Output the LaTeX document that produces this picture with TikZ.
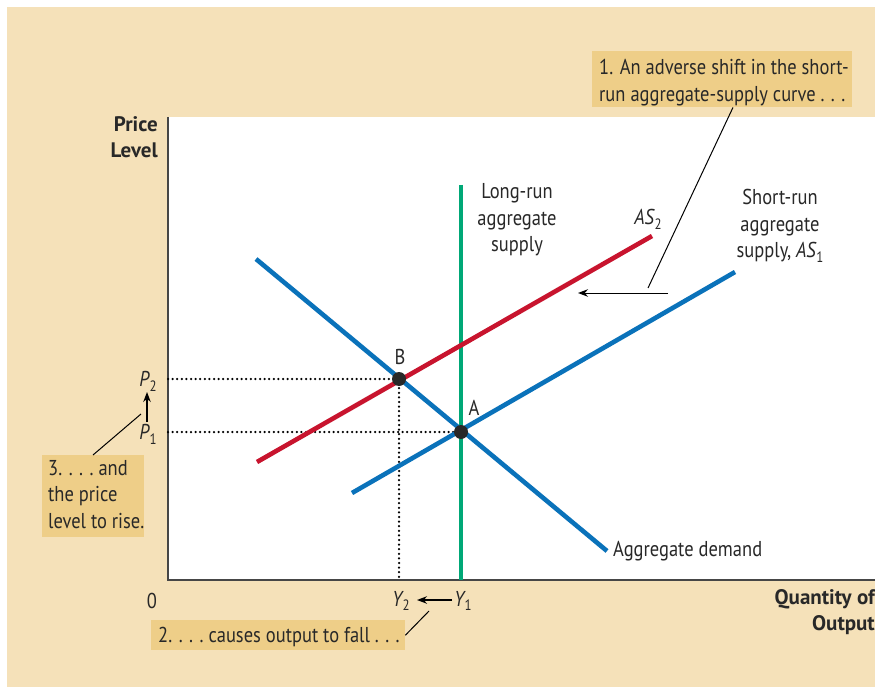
\documentclass[tikz,border=0pt]{standalone}
\usepackage{fontspec}
\setmainfont{PT Sans}[FakeStretch=0.86]
\newfontfamily\axisfont{PT Sans}
\usetikzlibrary{arrows.meta}
\definecolor{beige}{RGB}{245,225,185}
\definecolor{callout}{RGB}{238,206,136}
\definecolor{adblue}{RGB}{10,114,186}
\definecolor{asred}{RGB}{200,20,46}
\definecolor{lrgreen}{RGB}{0,168,119}
\definecolor{axisgray}{RGB}{70,70,70}
\definecolor{txt}{RGB}{40,40,40}
\newcommand\mysub[1]{\raisebox{-0.45ex}{\fontsize{15}{15}\selectfont #1}}
\newcommand\sdots{.\hspace{0.3em}.\hspace{0.3em}.}
\tikzset{
  lbl/.style={font=\fontsize{21.5}{26.5}\selectfont, text=txt, inner sep=0pt},
  boldlbl/.style={font=\axisfont\fontsize{21}{26.5}\selectfont\bfseries, text=txt, inner sep=0pt},
  curve/.style={line width=4.6pt},
  dots/.style={line width=2.5pt, line cap=round, dash pattern=on 0pt off 4.6pt, black},
  callbox/.style={fill=callout, inner sep=0pt},
  leader/.style={line width=1pt, black},
  arr/.style={line width=1.4pt, black, -{Stealth[length=10pt,width=7.5pt]}},
  pt/.style={circle, fill=txt, inner sep=0pt, minimum size=14pt}
}
\begin{document}
\begin{tikzpicture}[x=1pt,y=-1pt]
\useasboundingbox (0,0) rectangle (875,687);
\fill[white] (0,0) rectangle (875,687);
\fill[beige] (7,7) rectangle (875,687);
\fill[white] (168,117) rectangle (875,580);
% axes
\draw[axisgray, line width=2pt] (168,117) -- (168,580) -- (875,580);
% curve end points
\coordinate (lrT) at (461,185);
\coordinate (lrB) at (461,580);
\coordinate (adT) at (256,259);
\coordinate (adB) at (607,551);
\coordinate (as1L) at (352,493);
\coordinate (as1R) at (735,272);
\coordinate (as2L) at (257,462);
\coordinate (as2R) at (652,236);
\coordinate (yA) at (168,432);
\coordinate (yB) at (168,379);
\coordinate (xB) at (399,580);
\coordinate (A) at (461,432);
\coordinate (B) at (399,379);
% dotted guides
\draw[dots] (yB) -- (B);
\draw[dots] (yA) -- (A);
\draw[dots] (B) -- (xB);
% curves
\draw[curve, lrgreen] (lrT) -- (lrB);
\draw[curve, adblue] (adT) -- (adB);
\draw[curve, adblue] (as1L) -- (as1R);
\draw[curve, asred] (as2L) -- (as2R);
\node[pt] (Adot) at (A) {};
\node[pt] (Bdot) at (B) {};
% point labels
\node[lbl] (Albl) at (474,408) {A};
\node[lbl] (Blbl) at (400,357) {B};
% curve labels
\node[lbl, align=center] (lraslbl) at (517,220) {Long-run\\aggregate\\supply};
\node[lbl] (as2lbl) at (648,219) {{\itshape AS}\kern0.5pt\mysub{2}};
\node[lbl, align=center] (as1lbl) at (780,226) {Short-run\\aggregate\\supply, {\itshape AS}\kern0.5pt\mysub{1}};
\node[lbl, anchor=west] (adlbl) at (613,551) {Aggregate demand};
% axis labels
\node[boldlbl, align=right, anchor=east] (ylbl) at (158,137) {Price\\Level};
\node[boldlbl, align=right, anchor=east] (xlbl) at (875,612) {Quantity of\\Output};
\node[lbl] (zero) at (152,601) {0};
\node[lbl] (P2) at (148,381) {{\itshape P}\kern0.5pt\mysub{2}};
\node[lbl] (P1) at (148,434) {{\itshape P}\kern0.5pt\mysub{1}};
\node[lbl] (Y2) at (401,601) {{\itshape Y}\kern0.5pt\mysub{2}};
\node[lbl] (Y1) at (463,601) {{\itshape Y}\kern0.5pt\mysub{1}};
% shift arrows
\coordinate (pArrS) at (147,422);
\coordinate (pArrE) at (147,392);
\draw[arr] (pArrS) -- (pArrE);
\coordinate (yArrS) at (452,600);
\coordinate (yArrE) at (417,600);
\draw[arr] (yArrS) -- (yArrE);
\coordinate (shS) at (668,293);
\coordinate (shE) at (578,293);
\draw[arr, line width=1pt] (shS) -- (shE);
% callouts
\node[callbox, anchor=north west, minimum width=260pt, minimum height=56pt] (c1) at (592,51) {};
\node[lbl, anchor=north west, align=left] (c1txt) at (599,59) {1. An adverse shift in the short-\\run aggregate-supply curve \sdots};
\node[callbox, anchor=north west, minimum width=254pt, minimum height=30pt] (c2) at (151,620) {};
\node[lbl, anchor=base west] (c2txt) at (158,642) {2. \sdots\ causes output to fall \sdots};
\node[callbox, anchor=north west, minimum width=102pt, minimum height=82pt] (c3) at (42,455) {};
\node[lbl, anchor=north west, align=left] (c3txt) at (48,460) {3. \sdots\ and\\the price\\level to rise.};
% leaders
\coordinate (c1end) at (648,288);
\draw[leader] (c1.south west) ++(141,0) -- (c1end);
\coordinate (c2end) at (429,611);
\draw[leader] (c2.east) -- (c2end);
\coordinate (c3end) at (141,414);
\draw[leader] (c3.north west) ++(51,0) -- (c3end);
\end{tikzpicture}
\end{document}
